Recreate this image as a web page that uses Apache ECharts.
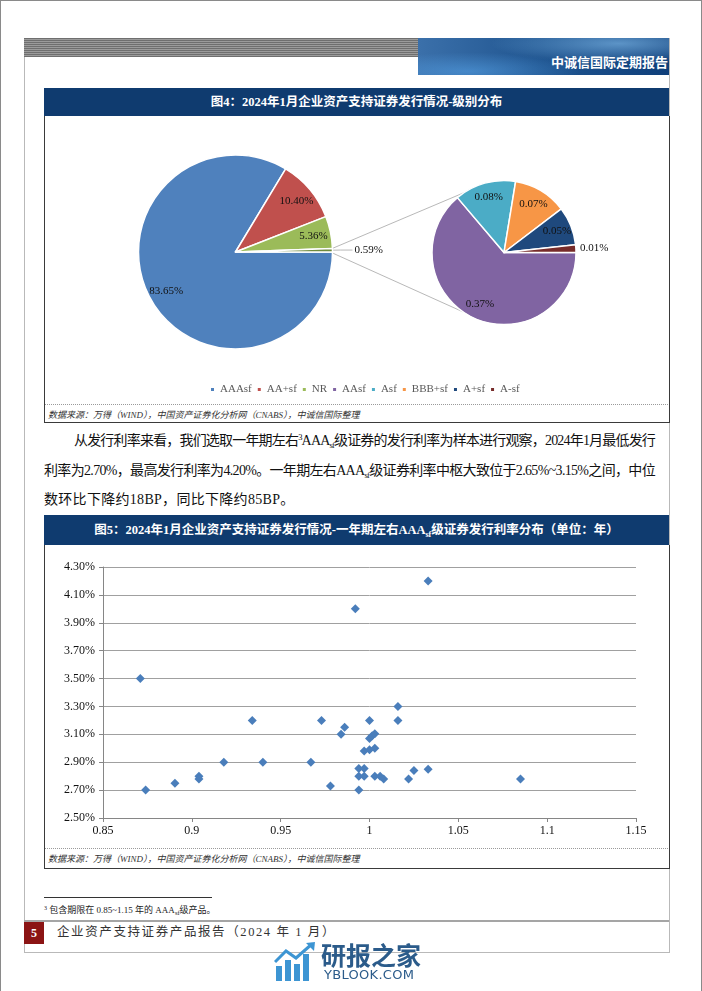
<!DOCTYPE html>
<html><head><meta charset="utf-8">
<script src="https://cdn.jsdelivr.net/npm/echarts@6/dist/echarts.min.js"></script>
<style>
html,body{margin:0;padding:0;background:#fff;}
#page{position:relative;width:702px;height:991px;overflow:hidden;background:#fff;font-family:"Liberation Serif","Noto Sans CJK SC",serif;}
.abs{position:absolute;}
.bar{position:absolute;left:44px;width:625px;background:#0f3b6f;color:#fff;font-weight:bold;font-size:12.5px;text-align:center;}
.box{position:absolute;left:44px;width:624px;border-left:1px solid #3a3a3a;border-right:1px solid #3a3a3a;border-bottom:1px solid #3a3a3a;}
.dots{position:absolute;left:45px;width:623px;border-top:1px dotted #9a9a9a;}
.src{position:absolute;left:48px;font-size:9px;font-style:italic;color:#333;white-space:nowrap;}
.pline{position:absolute;font-size:14px;color:#111;white-space:nowrap;height:20px;line-height:20px;}
.sb{font-size:8.5px;position:relative;top:3px;}
.sp{font-size:8.5px;position:relative;top:-5px;}
#chart{position:absolute;left:0;top:0;width:702px;height:991px;z-index:5;}
</style></head><body>
<div id="page">
  <div class="abs" style="left:0;top:0;width:700px;height:991px;border-left:1px solid #8a8a8a;border-right:1px solid #8a8a8a;border-top:1px solid #8a8a8a;"></div>
  <div class="abs" style="left:24px;top:38px;width:644px;height:914px;border:1px solid #b9b9b9;border-top:none;"></div>
  <div class="abs" style="left:24px;top:38px;width:394px;height:19px;background:repeating-linear-gradient(to bottom,#6f6f6f 0px,#6f6f6f 1px,#9b9b9b 1px,#9b9b9b 2px);"></div>
  <div class="abs" style="left:418px;top:38px;width:251px;height:37px;background:radial-gradient(ellipse at 80% 15%,rgba(150,210,255,0.55),rgba(0,0,0,0) 45%),radial-gradient(ellipse at 20% 90%,rgba(90,170,240,0.5),rgba(0,0,0,0) 40%),linear-gradient(90deg,#3b70aa,#1f548f 50%,#0f3f7a);"></div>
  <div class="abs" style="left:418px;top:53px;width:250px;text-align:right;color:#fff;font-weight:bold;font-size:13px;font-family:'Noto Sans CJK SC';line-height:18px;">中诚信国际定期报告</div>

  <div class="bar" style="top:88px;height:28px;line-height:28px;">图4：2024年1月企业资产支持证券发行情况-级别分布</div>
  <div class="box" style="top:116px;height:306px;"></div>
  <div class="dots" style="top:404px;"></div>
  <div class="src" style="top:408px;">数据来源：万得（WIND），中国资产证券化分析网（CNABS），中诚信国际整理</div>

  <div class="pline fit" data-w="581" style="left:74px;top:431px;">从发行利率来看，我们选取一年期左右<span class="sp">3</span>AAA<span class="sb">sf</span>级证券的发行利率为样本进行观察，2024年1月最低发行</div>
  <div class="pline fit" data-w="611" style="left:44px;top:461px;">利率为2.70%，最高发行利率为4.20%。一年期左右AAA<span class="sb">sf</span>级证券利率中枢大致位于2.65%~3.15%之间，中位</div>
  <div class="pline" id="l3" style="left:44px;top:490px;">数环比下降约18BP，同比下降约85BP。</div>

  <div class="bar" style="top:515px;height:30px;line-height:30px;">图5：2024年1月企业资产支持证券发行情况-一年期左右AAA<span class="sb" style="font-size:8px;">sf</span>级证券发行利率分布（单位：年）</div>
  <div class="box" style="top:545px;height:323px;"></div>
  <div class="dots" style="top:848px;"></div>
  <div class="src" style="top:852px;">数据来源：万得（WIND），中国资产证券化分析网（CNABS），中诚信国际整理</div>

  <div class="abs" style="left:44px;top:897px;width:168px;border-top:1px solid #333;"></div>
  <div class="abs" style="left:44px;top:903px;font-size:9px;color:#222;white-space:nowrap;"><span class="sp" style="font-size:6px;top:-3px;">3</span> 包含期限在 0.85~1.15 年的 AAA<span class="sb" style="font-size:6.5px;top:2px;">sf</span>级产品。</div>

  <div class="abs" style="left:24px;top:920px;width:645px;height:2px;background:#a5a5a5;"></div>
  <div class="abs" style="left:24px;top:922px;width:20px;height:22px;background:#8b1414;color:#fff;font-weight:bold;font-size:12px;line-height:22px;text-align:center;">5</div>
  <div class="abs" style="left:57px;top:923px;font-size:12.5px;color:#333;letter-spacing:1.6px;line-height:18px;white-space:nowrap;">企业资产支持证券产品报告（2024 年 1 月）</div>

  <svg class="abs" style="left:274px;top:942px;z-index:6;" width="44" height="40" viewBox="0 0 44 40">
    <rect x="2" y="24" width="6" height="15" fill="#3d95d3"/>
    <rect x="11" y="18" width="6" height="21" fill="#3d95d3"/>
    <rect x="20" y="22" width="6" height="17" fill="#3d95d3"/>
    <rect x="29" y="12" width="6" height="27" fill="#3d95d3"/>
    <polyline points="1,20 12,9 22,16 38,2" fill="none" stroke="#3d95d3" stroke-width="3"/>
    <polygon points="32,1 41,0 40,9" fill="#3d95d3"/>
  </svg>
  <div class="abs" style="left:321px;top:940px;z-index:6;font-family:'Noto Sans CJK SC';font-weight:bold;font-size:25px;line-height:28px;color:#2b5b8a;white-space:nowrap;">研报之家</div>
  <div class="abs" style="left:324px;top:968px;z-index:6;font-family:'DejaVu Sans';font-size:13px;line-height:14px;color:#2b5b8a;white-space:nowrap;letter-spacing:0.3px;">YBLOOK.COM</div>

  <div id="chart"></div>
</div>
<script>
// fit paragraph lines to their target widths
document.querySelectorAll('.fit').forEach(el => {
  const target = +el.dataset.w;
  const natural = el.getBoundingClientRect().width;
  const n = el.textContent.length;
  el.style.letterSpacing = ((target - natural) / n) + 'px';
});
document.getElementById('l3').style.letterSpacing = '0.3px';

// ---------- data ----------
const mainNames = ['AAAsf', 'AA+sf', 'NR', '其他'];
const mainValues = [83.65, 10.40, 5.36, 0.59];
const subNames = ['AAsf', 'Asf', 'BBB+sf', 'A+sf', 'A-sf'];
const subValues = [0.37, 0.08, 0.07, 0.05, 0.01];
const legendNames = ['AAAsf', 'AA+sf', 'NR', 'AAsf', 'Asf', 'BBB+sf', 'A+sf', 'A-sf'];

const termYears = [0.871, 0.874, 0.8905, 0.904, 0.904, 0.918, 0.934, 0.940, 0.967, 0.973,
  0.978, 0.984, 0.986, 0.992, 0.994, 0.997, 0.994, 0.997, 0.994, 0.997,
  1.000, 1.003, 1.000, 1.0015, 1.003, 1.000, 1.003, 1.006, 1.008, 1.016,
  1.016, 1.022, 1.025, 1.033, 1.033, 1.085];
const issueRates = [3.50, 2.70, 2.75, 2.80, 2.78, 2.90, 3.20, 2.90, 2.90, 3.20,
  2.73, 3.10, 3.15, 4.00, 2.855, 2.855, 2.80, 2.80, 2.70, 2.98,
  2.99, 3.00, 3.07, 3.09, 3.105, 3.20, 2.80, 2.80, 2.78, 3.30,
  3.20, 2.78, 2.84, 2.85, 4.20, 2.78];

const xTickLabels = ['0.85', '0.9', '0.95', '1', '1.05', '1.1', '1.15'];
const yTickLabels = ['2.50%', '2.70%', '2.90%', '3.10%', '3.30%', '3.50%', '3.70%', '3.90%', '4.10%', '4.30%'];

// ---------- styles ----------
const colorMap = {
  'AAAsf': '#4f81bd', 'AA+sf': '#c0504d', 'NR': '#9bbb59', '其他': '#6f8a3c',
  'AAsf': '#8064a2', 'Asf': '#4bacc6', 'BBB+sf': '#f79646', 'A+sf': '#1f497d', 'A-sf': '#772c2a'
};
const P1 = { cx: 235.5, cy: 252, r: 97 };
const P2 = { cx: 504, cy: 252.5, r: 72 };
const serif = 'Liberation Serif';
const pct = p => p.value.toFixed(2) + '%';

function pieData(names, values, outsideIdx, withLabelLine) {
  return names.map((n, i) => {
    const d = { name: n, value: values[i], itemStyle: { color: colorMap[n] } };
    if (i === outsideIdx) {
      d.label = { show: true, position: 'outside', formatter: pct, color: '#111', fontSize: 11, fontFamily: serif, distanceToLabelLine: 2 };
      d.labelLine = withLabelLine
        ? { show: true, length: 8, length2: 12, lineStyle: { color: '#a6a6a6', width: 0.8 } }
        : { show: false, length: 1, length2: 1 };
    }
    return d;
  });
}
function overlayData(names, values, outsideIdx) {
  return names.map((n, i) => ({
    name: n, value: values[i],
    itemStyle: { color: 'rgba(0,0,0,0)' },
    label: { show: i !== outsideIdx }
  }));
}
const basePie = (P) => ({
  type: 'pie', center: [P.cx, P.cy], startAngle: 0, clockwise: true,
  avoidLabelOverlap: false, animation: false, emphasis: { disabled: true },
  label: { show: false }, labelLine: { show: false }
});

const chart = echarts.init(document.getElementById('chart'), null, { renderer: 'canvas' });

// connector lines between the two pies
const otherAngle = mainValues[3] / 100 * 2 * Math.PI;
const connA = 56 * Math.PI / 180;
const lineStyle = { stroke: '#a6a6a6', lineWidth: 0.8 };

chart.setOption({
  animation: false,
  backgroundColor: 'rgba(0,0,0,0)',
  legend: {
    data: legendNames, left: 204, top: 379, icon: 'rect', itemWidth: 5, itemHeight: 5, itemGap: 4,
    textStyle: { fontSize: 11, color: '#595959', fontFamily: serif }, selectedMode: false
  },
  graphic: [
    { type: 'line', silent: true, shape: { x1: P1.cx + P1.r * Math.cos(otherAngle), y1: P1.cy - P1.r * Math.sin(otherAngle), x2: P2.cx - P2.r * Math.cos(connA), y2: P2.cy - P2.r * Math.sin(connA) }, style: lineStyle },
    { type: 'line', silent: true, shape: { x1: P1.cx + P1.r, y1: P1.cy + 1, x2: P2.cx - P2.r * Math.cos(connA), y2: P2.cy + P2.r * Math.sin(connA) }, style: lineStyle }
  ],
  grid: { left: 103, top: 567, width: 533, height: 251, containLabel: false },
  xAxis: {
    type: 'value', min: 0.85, max: 1.15, interval: 0.05,
    axisLine: { show: true, lineStyle: { color: '#868686' } },
    axisTick: { show: true, length: 4, lineStyle: { color: '#868686' } },
    splitLine: { show: false },
    axisLabel: { fontSize: 12, color: '#111', fontFamily: serif, margin: 7,
      formatter: v => xTickLabels[Math.round((v - 0.85) / 0.05)] }
  },
  yAxis: {
    type: 'value', min: 2.5, max: 4.3, interval: 0.2,
    axisLine: { show: true, lineStyle: { color: '#868686' } },
    axisTick: { show: true, length: 4, lineStyle: { color: '#868686' } },
    splitLine: { show: true, lineStyle: { color: '#a0a0a0', width: 1 } },
    axisLabel: { fontSize: 12, color: '#111', fontFamily: serif, margin: 8,
      formatter: v => yTickLabels[Math.round((v - 2.5) / 0.2)] }
  },
  series: [
    Object.assign(basePie(P1), {
      radius: [0, P1.r],
      itemStyle: { borderColor: '#fff', borderWidth: 1.5 },
      data: pieData(mainNames, mainValues, 3, true)
    }),
    Object.assign(basePie(P1), {
      radius: [P1.r * 0.58, P1.r], silent: true, legendHoverLink: false,
      label: { show: true, position: 'inside', formatter: pct, color: '#111', fontSize: 11, fontFamily: serif },
      data: overlayData(mainNames, mainValues, 3)
    }),
    Object.assign(basePie(P2), {
      radius: [0, P2.r],
      itemStyle: { borderColor: '#fff', borderWidth: 1.5 },
      data: pieData(subNames, subValues, 4, false)
    }),
    Object.assign(basePie(P2), {
      radius: [P2.r * 0.5, P2.r], silent: true, legendHoverLink: false,
      label: { show: true, position: 'inside', formatter: pct, color: '#111', fontSize: 11, fontFamily: serif },
      data: overlayData(subNames, subValues, 4)
    }),
    {
      type: 'scatter', symbol: 'diamond', symbolSize: 9, animation: false,
      itemStyle: { color: '#4a7ebb', opacity: 1 },
      emphasis: { disabled: true },
      data: termYears.map((t, i) => [t, issueRates[i]])
    }
  ]
});
</script>
</body></html>
